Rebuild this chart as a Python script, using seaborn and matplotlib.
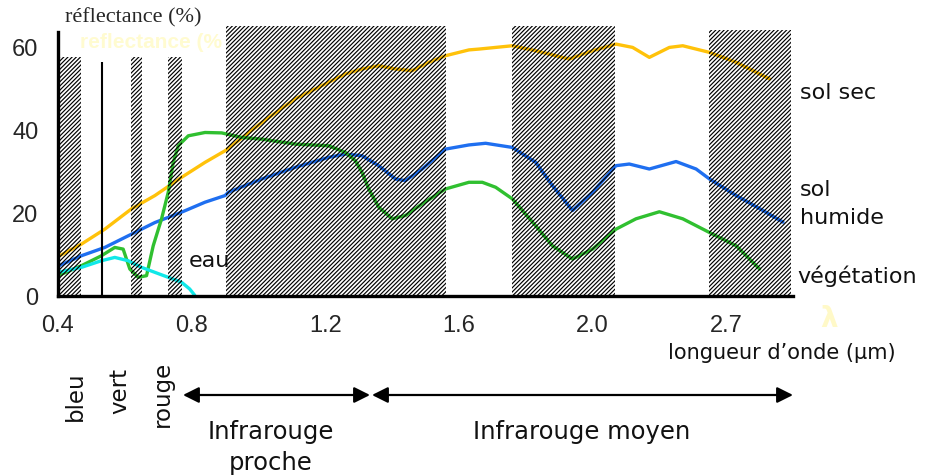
import numpy as np
import pandas as pd
import matplotlib
matplotlib.use("Agg")
import matplotlib.pyplot as plt
import seaborn as sns

# Reflectance spectra (wavelength in um, reflectance in %)
wl_sol_sec = [0.40, 0.47, 0.54, 0.62, 0.69, 0.77, 0.84, 0.90, 0.91, 1.01, 1.11, 1.21,
              1.26, 1.31, 1.36, 1.41, 1.46, 1.51, 1.56, 1.63, 1.66, 1.76, 1.83, 1.93,
              2.00, 2.07, 2.12, 2.17, 2.23, 2.27, 2.35, 2.43, 2.53]
refl_sol_sec = [9.5, 12.5, 16.1, 21.0, 24.2, 28.6, 32.2, 35.0, 35.6, 41.8, 47.5, 51.5,
                53.5, 54.7, 55.5, 54.7, 54.3, 56.3, 57.9, 59.3, 59.5, 60.3, 59.1, 57.1,
                59.1, 60.7, 59.9, 57.5, 59.9, 60.3, 58.7, 56.3, 52.3]

wl_sol_humide = [0.40, 0.47, 0.54, 0.62, 0.69, 0.77, 0.84, 0.90, 0.91, 1.01, 1.11, 1.21,
                 1.26, 1.31, 1.36, 1.41, 1.44, 1.49, 1.56, 1.63, 1.68, 1.76, 1.83, 1.88,
                 1.94, 2.00, 2.07, 2.11, 2.17, 2.25, 2.31, 2.35, 2.43, 2.51, 2.57]
refl_sol_humide = [7.2, 9.7, 11.7, 14.9, 17.7, 20.2, 22.6, 24.2, 25.0, 28.2, 31.0, 33.4,
                   34.2, 33.8, 31.4, 28.2, 27.8, 30.6, 35.4, 36.4, 36.8, 35.8, 32.2, 26.6,
                   20.6, 25.0, 31.4, 31.8, 30.6, 32.4, 30.6, 28.2, 24.2, 20.6, 17.8]

wl_vegetation = [0.40, 0.47, 0.53, 0.57, 0.595, 0.615, 0.64, 0.665, 0.685, 0.71, 0.73,
                 0.745, 0.76, 0.79, 0.84, 0.89, 0.95, 1.01, 1.11, 1.21, 1.26, 1.29, 1.31,
                 1.33, 1.36, 1.40, 1.44, 1.49, 1.56, 1.63, 1.67, 1.71, 1.76, 1.83, 1.88,
                 1.94, 2.00, 2.07, 2.13, 2.20, 2.27, 2.35, 2.43, 2.50]
refl_vegetation = [4.9, 7.3, 9.7, 11.7, 11.3, 6.5, 4.5, 4.9, 12.1, 18.6, 25.0,
                   32.2, 36.2, 38.6, 39.4, 39.3, 38.2, 37.8, 36.6, 36.2, 34.6, 32.6, 29.8,
                   25.8, 21.4, 18.6, 19.4, 22.2, 25.8, 27.4, 27.4, 26.2, 23.4, 16.9, 12.1,
                   8.9, 11.3, 16.1, 18.6, 20.3, 18.6, 15.3, 12.1, 6.5]

wl_eau = [0.40, 0.47, 0.53, 0.57, 0.61, 0.65, 0.69, 0.73, 0.77, 0.794, 0.809]
refl_eau = [5.7, 6.9, 8.5, 9.3, 8.5, 6.9, 5.7, 4.5, 3.3, 1.7, 0.2]

# hatched (absorption) bands
band_start = [0.40, 0.618, 0.729, 0.902, 1.759, 2.349]
band_end = [0.469, 0.652, 0.772, 1.562, 2.068, 2.593]
band_top = [57.5, 57.5, 57.5, 65.0, 65.0, 64.1]

green_line_x = 0.532
green_line_top = 56.4

x_major = [0.4, 0.8, 1.2, 1.6, 2.0, 2.4]
x_labels = ["0.4", "0.8", "1.2", "1.6", "2.0", "2.7"]
y_major = [0, 20, 40, 60]
y_minor = [10, 30, 50]

W, H = 933, 477


def fx(x):
    return x / W


def fy(y):
    return 1 - y / H


sns.set_style("white")
plt.rcParams["font.family"] = ["DejaVu Sans"]
plt.rcParams["hatch.linewidth"] = 0.85
plt.rcParams["hatch.color"] = "black"

fig = plt.figure(figsize=(W / 100, H / 100), dpi=100)
ax = fig.add_axes([fx(58), fy(297), fx(793) - fx(58), fy(27.25) - fy(297)])

curves = [
    (wl_sol_sec, refl_sol_sec, "#FFC20A"),
    (wl_sol_humide, refl_sol_humide, "#1F6FF0"),
    (wl_vegetation, refl_vegetation, "#30C030"),
    (wl_eau, refl_eau, "#10E8E8"),
]
for wl, refl, col in curves:
    df = pd.DataFrame({"wl": wl, "refl": refl})
    sns.lineplot(data=df, x="wl", y="refl", color=col, lw=2.4, sort=False,
                 ax=ax, zorder=2)

widths = [e - s for s, e in zip(band_start, band_end)]
ax.bar(band_start, band_top, width=widths, align="edge", facecolor="none",
       edgecolor="black", linewidth=0, hatch="////////", zorder=3)

ax.vlines(green_line_x, 0, green_line_top, color="black", lw=1.5, zorder=4)

ax.set_xlim(0.4, 2.595)
ax.set_ylim(0, 65)
ax.set_xlabel("")
ax.set_ylabel("")
sns.despine(ax=ax)
for s in ["left", "bottom"]:
    ax.spines[s].set_linewidth(2.4)
    ax.spines[s].set_color("black")
ax.spines["left"].set_bounds(0, 63.5)

ax.set_xticks(x_major)
ax.set_xticklabels(x_labels)
ax.set_xticks(np.round(np.arange(0.5, 2.65, 0.1), 2), minor=True)
ax.set_yticks(y_major)
ax.set_yticks(y_minor, minor=True)
ax.tick_params(axis="both", which="major", direction="out", length=9, width=2.2,
               color="black", labelsize=17, pad=4)
ax.tick_params(axis="both", which="minor", direction="out", length=6, width=2.0,
               color="black")
ax.tick_params(axis="y", which="major", length=10, pad=4)
for lab in ax.get_xticklabels() + ax.get_yticklabels():
    lab.set_fontfamily(["Liberation Sans", "DejaVu Sans"])

# faint scan ghosts
fig.text(fx(80), fy(42), "reflectance (%", color="#FFFBD0", fontsize=15,
         fontweight="bold", family=["Liberation Sans"], va="center", zorder=0)
fig.text(fx(829), fy(319), "\u03bb", color="#FFF9C8", fontsize=20,
         fontweight="bold", ha="center", va="center")

fig.text(fx(65), fy(18), "réflectance (%)", fontsize=16,
         family=["Liberation Serif", "DejaVu Serif"], va="center")

lbl = dict(fontsize=16, va="center", ha="left", color="#111111")
fig.text(fx(800), fy(93), "sol sec", **lbl)
fig.text(fx(800), fy(190), "sol", **lbl)
fig.text(fx(800), fy(218), "humide", **lbl)
fig.text(fx(797), fy(276), "végétation", **lbl)
fig.text(fx(189), fy(261), "eau", **lbl)
fig.text(fx(668), fy(353), "longueur d\u2019onde (\u00b5m)", fontsize=15,
         va="center", ha="left", color="#111111")

rot = dict(fontsize=16.5, rotation=90, ha="center", va="center", color="#111111")
fig.text(fx(75), fy(396), "bleu", **rot)
fig.text(fx(120), fy(391), "vert", **rot)
fig.text(fx(162), fy(394), "rouge", **rot)

arrow = dict(arrowstyle="<|-|>", color="black", lw=1.6, mutation_scale=24,
             shrinkA=0, shrinkB=0)
ax.annotate("", xy=(370, H - 396), xytext=(183, H - 396), xycoords="figure pixels",
            textcoords="figure pixels", arrowprops=arrow, annotation_clip=False)
ax.annotate("", xy=(793, H - 396), xytext=(372, H - 396), xycoords="figure pixels",
            textcoords="figure pixels", arrowprops=arrow, annotation_clip=False)

fig.text(fx(271), fy(432), "Infrarouge", fontsize=17.5, ha="center", va="center",
         color="#111111")
fig.text(fx(271), fy(463), "proche", fontsize=17.5, ha="center", va="center",
         color="#111111")
fig.text(fx(582), fy(432), "Infrarouge moyen", fontsize=17.5, ha="center",
         va="center", color="#111111")

fig.savefig("out.png", dpi=100)
